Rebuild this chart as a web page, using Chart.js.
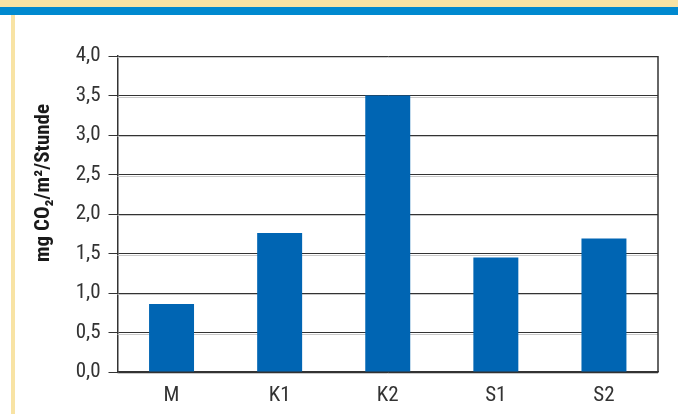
<!DOCTYPE html>
<html>
<head>
<meta charset="utf-8">
<script src="https://cdn.jsdelivr.net/npm/chart.js@4/dist/chart.umd.min.js"></script>
<style>
  html, body { margin: 0; padding: 0; background: #ffffff; }
  #wrap { position: relative; width: 678px; height: 414px; overflow: hidden; background: #ffffff; }
  #topY { position: absolute; left: 0; top: 0; width: 678px; height: 7px; background: #f8e3a4; }
  #topB { position: absolute; left: 0; top: 7px; width: 678px; height: 8px; background: #0089cf; }
  #leftY { position: absolute; left: 11px; top: 15px; width: 4px; height: 399px; background: #f8e3a4; }
  #c { position: absolute; left: 0; top: 0; }
</style>
</head>
<body>
<div id="wrap">
  <div id="topY"></div>
  <div id="topB"></div>
  <div id="leftY"></div>
  <canvas id="c" width="678" height="414"></canvas>
</div>
<script>
const categories = ["M", "K1", "K2", "S1", "S2"];
const co2Values = [0.86, 1.76, 3.5, 1.45, 1.69];
const yTicks = [0, 0.5, 1.0, 1.5, 2.0, 2.5, 3.0, 3.5, 4.0];
const yTitle = "mg CO\u2082/m\u00B2/Stunde";

const FONT = "'Liberation Sans Narrow', 'Roboto Condensed', 'Liberation Sans', sans-serif";

const decor = {
  id: 'decor',
  beforeDatasetsDraw(chart) {
    const ctx = chart.ctx, ca = chart.chartArea, y = chart.scales.y;
    ctx.save();
    ctx.strokeStyle = '#c8c8c8';
    ctx.lineWidth = 1;
    yTicks.forEach(v => {
      const py = Math.round(y.getPixelForValue(v)) + 1.5;
      ctx.beginPath(); ctx.moveTo(ca.left, py); ctx.lineTo(ca.right, py); ctx.stroke();
    });
    ctx.restore();
  },
  afterDraw(chart) {
    const ctx = chart.ctx, ca = chart.chartArea;
    ctx.save();
    ctx.strokeStyle = '#333333';
    ctx.lineWidth = 1.5;
    ctx.beginPath(); ctx.moveTo(ca.right, ca.top); ctx.lineTo(ca.right, ca.bottom); ctx.stroke();
    ctx.translate(44, 183);
    ctx.rotate(-Math.PI / 2);
    ctx.fillStyle = '#1a1a1a';
    ctx.font = "bold 21px " + FONT;
    ctx.textAlign = 'center';
    ctx.textBaseline = 'middle';
    ctx.fillText(yTitle, 0, 0);
    ctx.restore();
  }
};

new Chart(document.getElementById('c'), {
  type: 'bar',
  data: {
    labels: categories,
    datasets: [{
      data: co2Values,
      backgroundColor: '#0065b3',
      borderWidth: 0,
      barPercentage: 0.416,
      categoryPercentage: 1.0
    }]
  },
  options: {
    responsive: false,
    animation: false,
    devicePixelRatio: 1,
    layout: { padding: { top: 56, right: 20, left: 0, bottom: 0 } },
    plugins: { legend: { display: false }, tooltip: { enabled: false } },
    scales: {
      x: {
        grid: { display: false, drawTicks: false },
        border: { display: true, color: '#333333', width: 1.5 },
        ticks: { color: '#333333', font: { family: FONT, size: 21 }, padding: 11, maxRotation: 0 },
        afterFit(s) { s.height = 42; }
      },
      y: {
        min: 0, max: 4,
        afterBuildTicks(s) { s.ticks = yTicks.map(v => ({ value: v })); },
        grid: { color: '#333333', lineWidth: 1, tickLength: 9, drawOnChartArea: true },
        border: { display: true, color: '#333333', width: 1.5 },
        ticks: {
          color: '#333333',
          font: { family: FONT, size: 21 },
          padding: 8,
          callback: v => v.toFixed(1).replace('.', ',')
        },
        afterFit(s) { s.width = 117.5; }
      }
    }
  },
  plugins: [decor]
});
</script>
</body>
</html>
